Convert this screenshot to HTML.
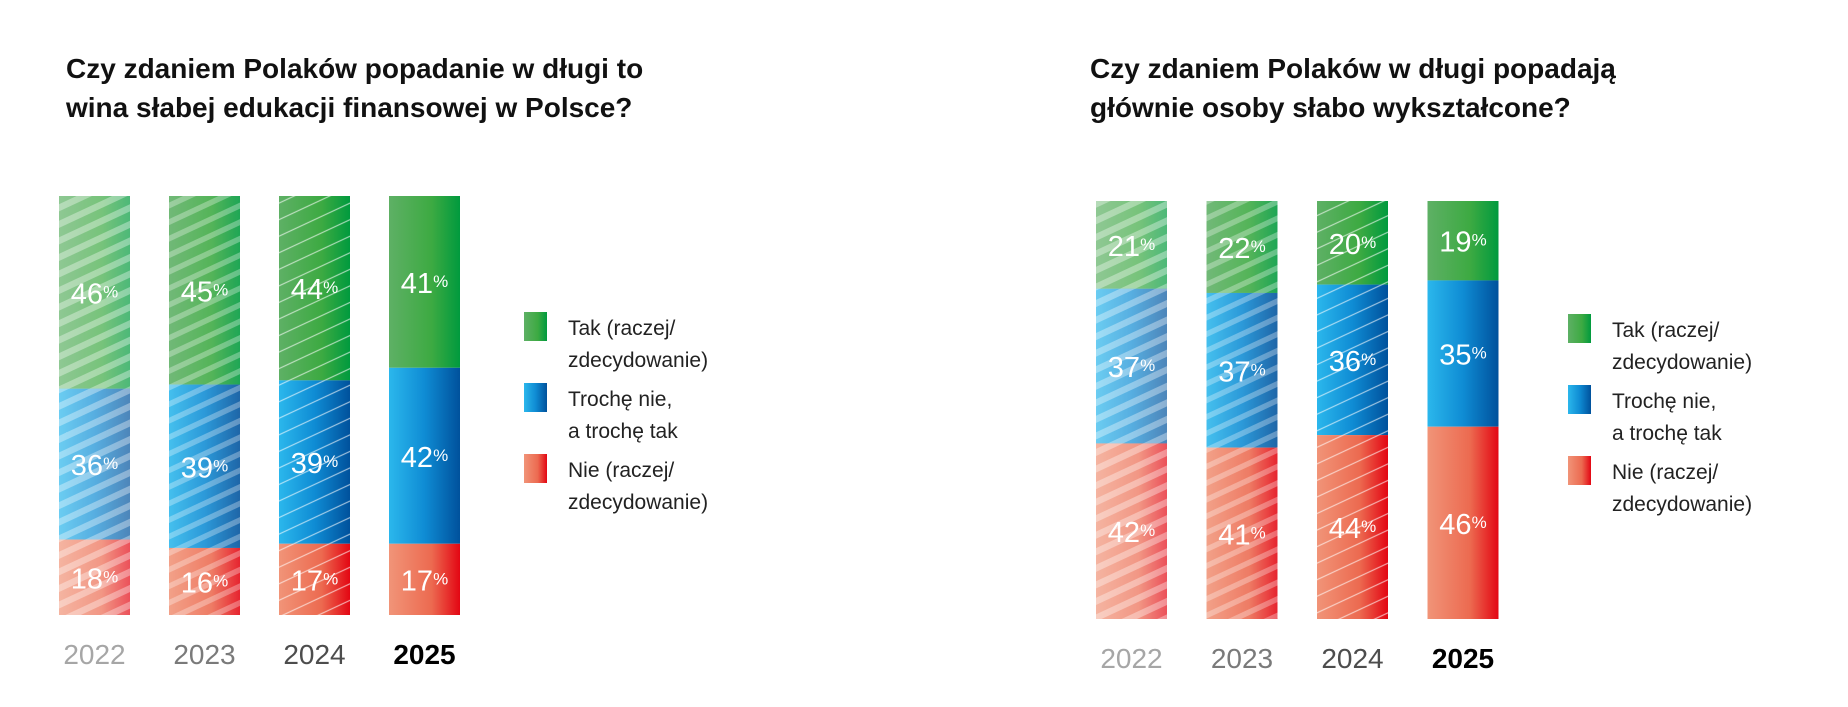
<!DOCTYPE html>
<html><head><meta charset="utf-8"><style>
html,body{margin:0;padding:0;background:#fff}
svg{display:block;font-family:"Liberation Sans",sans-serif}
</style></head><body>
<svg id="c" width="1848" height="707" viewBox="0 0 1848 707" xmlns="http://www.w3.org/2000/svg">
<defs>
<linearGradient id="gG" x1="0" x2="1"><stop offset="0" stop-color="#5eb065"/><stop offset="0.6" stop-color="#3daa42"/><stop offset="1" stop-color="#009a3e"/></linearGradient>
<linearGradient id="gB" x1="0" x2="1"><stop offset="0" stop-color="#2bb7ec"/><stop offset="0.5" stop-color="#0f8cd4"/><stop offset="1" stop-color="#00519c"/></linearGradient>
<linearGradient id="gR" x1="0" x2="1"><stop offset="0" stop-color="#f19478"/><stop offset="0.6" stop-color="#ec6a50"/><stop offset="1" stop-color="#e30613"/></linearGradient>
<pattern id="p0" width="15" height="15" patternUnits="userSpaceOnUse" patternTransform="rotate(-25)"><line x1="0" y1="2" x2="15" y2="2" stroke="#fff" stroke-opacity="0.35" stroke-width="9"/></pattern>
<pattern id="p1" width="15" height="15" patternUnits="userSpaceOnUse" patternTransform="rotate(-25)"><line x1="0" y1="2" x2="15" y2="2" stroke="#fff" stroke-opacity="0.3" stroke-width="7"/></pattern>
<pattern id="p2" width="15" height="15" patternUnits="userSpaceOnUse" patternTransform="rotate(-25)"><line x1="0" y1="2" x2="15" y2="2" stroke="#fff" stroke-opacity="0.6" stroke-width="1.2"/></pattern>
</defs>
<g id="root"></g>
</svg>
<script>
const years = ["2022","2023","2024","2025"];
const series = ["Tak (raczej/ zdecydowanie)","Trochę nie, a trochę tak","Nie (raczej/ zdecydowanie)"];
const chart1Tak = [46,45,44,41];
const chart1Troche = [36,39,39,42];
const chart1Nie = [18,16,17,17];
const chart2Tak = [21,22,20,19];
const chart2Troche = [37,37,36,35];
const chart2Nie = [42,41,44,46];

const NS="http://www.w3.org/2000/svg";
const root=document.getElementById('root');
function el(t,a,p){const e=document.createElementNS(NS,t);for(const k in a)e.setAttribute(k,a[k]);(p||root).appendChild(e);return e;}
const grads=["url(#gG)","url(#gB)","url(#gR)"];
const yearCols=["#a6a6a6","#7a7a7a","#4d4d4d","#000"];
const fades=[0.3,0.12,0,0];

function chart(cfg){
  const g=el('g',{});
  
  
  const t=el('text',{x:cfg.tx,y:78,'font-size':28,'font-weight':'bold',fill:'#111'},g);
  
  
  cfg.title.forEach((l,i)=>{const s=el('tspan',{x:cfg.tx,y:78+39*i},t);s.textContent=l;});
  const H=cfg.bottom-cfg.top;
  const yScale=v=>v/100*H;
  const xScale=i=>cfg.x0+i*cfg.step;
  years.forEach((yr,i)=>{
    const vals=[cfg.tak[i],cfg.troche[i],cfg.nie[i]];
    const tot=vals.reduce((a,b)=>a+b,0);
    let y=cfg.top;
    vals.forEach((v,k)=>{
      const h=yScale(v*100/tot);
      const x=xScale(i);
      const r=el('rect',{x:x,y:y,width:cfg.w,height:h,fill:grads[k]},g);
      
      
      if(fades[i]>0){const f=el('rect',{x:x,y:y,width:cfg.w,height:h,fill:'#fff','fill-opacity':fades[i]},g);}
      if(i<3){const p=el('rect',{x:x,y:y,width:cfg.w,height:h,fill:'url(#p'+i+')'},g);}
      const lb=el('text',{x:x+cfg.w/2,y:y+h/2+11,'text-anchor':'middle','font-size':29,fill:'#fff'},g);
      
      
      lb.textContent=v;
      const pc=el('tspan',{'font-size':17,dy:-6},lb);pc.textContent='%';
      y+=h;
    });
    const yl=el('text',{x:xScale(i)+cfg.w/2,y:cfg.bottom+49,'text-anchor':'middle','font-size':28,fill:yearCols[i],'font-weight':i==3?'bold':'normal'},g);
    
    
    yl.textContent=yr;
  });
  const lines=[["Tak (raczej/","zdecydowanie)"],["Trochę nie,","a trochę tak"],["Nie (raczej/","zdecydowanie)"]];
  lines.forEach((ls,k)=>{
    const ly=cfg.legY+k*71;
    const sq=el('rect',{x:cfg.legX,y:ly,width:23,height:29,fill:grads[k]},g);
    
    
    const tx=el('text',{x:cfg.legX+44,y:ly+23,'font-size':21,fill:'#222'},g);
    
    
    ls.forEach((s,j)=>{const sp=el('tspan',{x:cfg.legX+44,y:ly+23+j*32},tx);sp.textContent=s;});
  });
}
chart({name:'chart-education',x0:59,step:110,w:71,top:196,bottom:615,legX:524,legY:312,tx:66,
  title:["Czy zdaniem Polaków popadanie w długi to","wina słabej edukacji finansowej w Polsce?"],
  tak:chart1Tak,troche:chart1Troche,nie:chart1Nie});
chart({name:'chart-low-education',x0:1096,step:110.5,w:71,top:201,bottom:619,legX:1568,legY:314,tx:1090,
  title:["Czy zdaniem Polaków w długi popadają","głównie osoby słabo wykształcone?"],
  tak:chart2Tak,troche:chart2Troche,nie:chart2Nie});
</script>
</body></html>
